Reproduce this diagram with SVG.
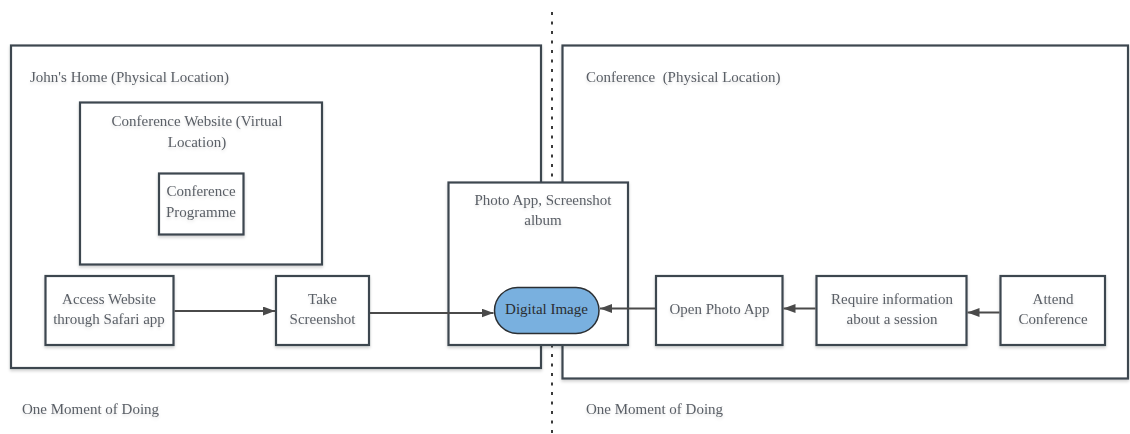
<svg xmlns="http://www.w3.org/2000/svg" width="1130" height="434" viewBox="0 0 1130 434">
  <defs>
    <style>
      .box { fill: #ffffff; stroke: #3d4650; stroke-width: 2.2; filter: url(#shadow); }
      .frame { fill: #ffffff; stroke: #3d4650; stroke-width: 2.2; filter: url(#shadow); }
      .pill { fill: #79b0df; stroke: #2b2f33; stroke-width: 1.5; }
      .lbl { font-family: "Liberation Serif", "Times New Roman", serif; font-size: 15px; fill: #5a5f66; filter: url(#haze); white-space: pre; }
      .mid { text-anchor: middle; }
      .dark { fill: #2a2d31; filter: none; }
      .edge { fill: none; stroke: #4a4a4a; stroke-width: 2; marker-end: url(#arrow); }
      .divider { fill: none; stroke: #3a3a3a; stroke-width: 2; stroke-dasharray: 3 6.5; }
    </style>
    <filter id="shadow" x="-10%" y="-10%" width="120%" height="130%">
      <feDropShadow dx="0" dy="2" stdDeviation="1.8" flood-color="#000" flood-opacity="0.18"/>
    </filter>
    <filter id="haze" x="-5%" y="-30%" width="110%" height="180%">
      <feDropShadow dx="0" dy="2" stdDeviation="1.5" flood-color="#000" flood-opacity="0.12"/>
    </filter>
    <marker id="arrow" markerUnits="userSpaceOnUse" markerWidth="12" markerHeight="9" refX="12" refY="4.5" orient="auto">
      <path d="M0,0 L12,4.5 L0,9 Z" fill="#4a4a4a"/>
    </marker>
  </defs>

  <!-- divider between the two places -->
  <line class="divider" x1="552" y1="12" x2="552" y2="434"/>

  <!-- John's home -->
  <g id="johns-home">
    <rect class="frame" x="11" y="45.5" width="530" height="322.5"/>
    <text class="lbl" x="30" y="82">John's Home (Physical Location)</text>
  </g>

  <!-- conference venue -->
  <g id="conference-venue">
    <rect class="frame" x="562.5" y="45.5" width="565.5" height="333"/>
    <text class="lbl" x="586" y="82" xml:space="preserve">Conference  (Physical Location)</text>
  </g>

  <g id="conference-website">
    <rect class="box" x="80" y="102.5" width="242" height="162"/>
    <text class="lbl mid" x="197" y="126">Conference Website (Virtual</text>
    <text class="lbl mid" x="197" y="146.5">Location)</text>
  </g>

  <g id="conference-programme">
    <rect class="box" x="159" y="173.5" width="84.5" height="61"/>
    <text class="lbl mid" x="201" y="196">Conference</text>
    <text class="lbl mid" x="201" y="216.5">Programme</text>
  </g>

  <g id="access-website">
    <rect class="box" x="45.5" y="276" width="128" height="69"/>
    <text class="lbl mid" x="109" y="303.5">Access Website</text>
    <text class="lbl mid" x="109" y="323.5">through Safari app</text>
  </g>

  <g id="take-screenshot">
    <rect class="box" x="276" y="276" width="93" height="69"/>
    <text class="lbl mid" x="322.5" y="303.5">Take</text>
    <text class="lbl mid" x="322.5" y="323.5">Screenshot</text>
  </g>

  <g id="screenshot-album">
    <rect class="box" x="448.5" y="182.5" width="179.5" height="162.5"/>
    <text class="lbl mid" x="543" y="205">Photo App, Screenshot</text>
    <text class="lbl mid" x="543" y="225">album</text>
  </g>

  <g id="digital-image">
    <rect class="pill" x="494.5" y="287.5" width="104.5" height="46" rx="23" ry="23"/>
    <text class="lbl mid dark" x="546.5" y="313.5">Digital Image</text>
  </g>

  <g id="open-photo-app">
    <rect class="box" x="656" y="276" width="126.5" height="69"/>
    <text class="lbl mid" x="719.5" y="313.5">Open Photo App</text>
  </g>

  <g id="require-information">
    <rect class="box" x="816.5" y="276" width="150" height="69"/>
    <text class="lbl mid" x="892" y="303.5">Require information</text>
    <text class="lbl mid" x="892" y="323.5">about a session</text>
  </g>

  <g id="attend-conference">
    <rect class="box" x="1000.5" y="276" width="104.5" height="69"/>
    <text class="lbl mid" x="1053" y="303.5">Attend</text>
    <text class="lbl mid" x="1053" y="323.5">Conference</text>
  </g>

  <!-- flow between steps -->
  <g id="connectors">
    <line class="edge" x1="174.5" y1="311" x2="275" y2="311"/>
    <line class="edge" x1="370" y1="313" x2="493.5" y2="313"/>
    <line class="edge" x1="655" y1="308.5" x2="600" y2="308.5"/>
    <line class="edge" x1="815.5" y1="308.5" x2="783.5" y2="308.5"/>
    <line class="edge" x1="999.5" y1="312.5" x2="967.5" y2="312.5"/>
  </g>

  <text class="lbl" x="22" y="413.5">One Moment of Doing</text>
  <text class="lbl" x="586" y="413.5">One Moment of Doing</text>
</svg>
